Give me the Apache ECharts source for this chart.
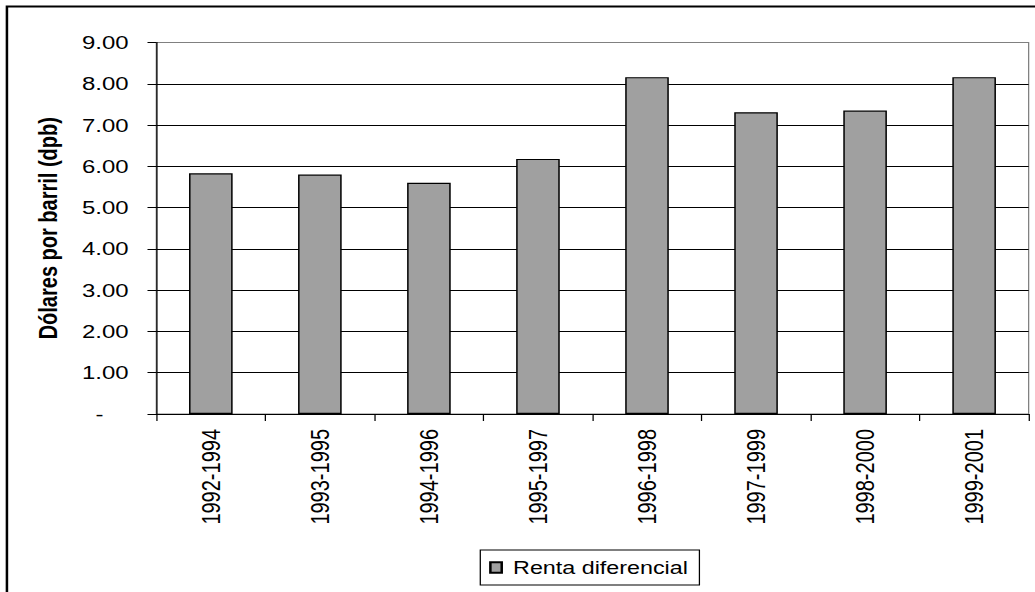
<!DOCTYPE html>
<html>
<head>
<meta charset="utf-8">
<script src="https://cdn.jsdelivr.net/npm/echarts@6/dist/echarts.min.js"></script>
<style>
  html, body { margin: 0; padding: 0; background: #fff; overflow: hidden; }
  /* Chart is laid out narrower and widened horizontally to give the wide-glyph look */
  #chart { width: 821px; height: 592px; transform: scaleX(1.2606); transform-origin: 0 0; }
</style>
</head>
<body>
<div id="chart"></div>
<script>
const periods = ['1992-1994', '1993-1995', '1994-1996', '1995-1997', '1996-1998', '1997-1999', '1998-2000', '1999-2001'];
const rentaDiferencial = [5.83, 5.80, 5.60, 6.18, 8.16, 7.31, 7.35, 8.16];
const seriesName = 'Renta diferencial';
const yTitle = 'Dólares por barril (dpb)';
const yMin = 0, yMax = 9, yStep = 1;

const FONT = "'Liberation Sans', Arial, sans-serif";
const chart = echarts.init(document.getElementById('chart'), null, { renderer: 'svg' });

// split lines: black inside, grey at the top edge of the plot area
const splitColors = [];
for (let v = yMin; v <= yMax; v += yStep) splitColors.push(v === yMax ? '#808080' : '#000000');

chart.setOption({
  animation: false,
  backgroundColor: '#ffffff',
  textStyle: { fontFamily: FONT, color: '#000' },
  graphic: [{
    type: 'rect',
    shape: { x: 5.5, y: 6.5, width: 900, height: 700 },
    style: { fill: 'none', stroke: '#000', lineWidth: 2 },
    silent: true, z: 100
  }],
  grid: {
    left: 124, right: 5, top: 42.5, bottom: 178,
    show: true, borderColor: '#808080', borderWidth: 1, backgroundColor: 'transparent'
  },
  legend: {
    data: [seriesName],
    left: 381, top: 550,
    padding: [8, 9, 8, 7],
    borderColor: '#000', borderWidth: 1,
    icon: 'rect', itemWidth: 9, itemHeight: 10.5,
    textStyle: { fontFamily: FONT, fontSize: 18.5, color: '#000', padding: [0, 0, 0, 4] }
  },
  xAxis: {
    type: 'category',
    data: periods,
    boundaryGap: true,
    axisLine: { lineStyle: { color: '#000', width: 1 } },
    axisTick: { show: true, length: 7, interval: 0, alignWithLabel: false, lineStyle: { color: '#000' } },
    axisLabel: { rotate: 90, margin: 15, interval: 0, fontFamily: FONT, fontSize: 20, color: '#000' },
    splitLine: { show: false }
  },
  yAxis: {
    type: 'value',
    min: yMin, max: yMax, interval: yStep,
    name: yTitle,
    nameLocation: 'middle',
    nameRotate: 90,
    nameGap: 76,
    nameTextStyle: { fontFamily: FONT, fontSize: 20, fontWeight: 'bold', color: '#000' },
    axisLine: { show: true, lineStyle: { color: '#000', width: 1 } },
    axisTick: { show: true, length: 7, lineStyle: { color: '#000' } },
    axisLabel: {
      margin: 22, fontFamily: FONT, fontSize: 19, color: '#000',
      formatter: v => v === 0 ? '{d|-}' : v.toFixed(2),
      rich: { d: { fontFamily: FONT, fontSize: 19, color: '#000', padding: [0, 20, 0, 0] } }
    },
    splitLine: { show: true, lineStyle: { color: splitColors, width: 1 } }
  },
  series: [{
    name: seriesName,
    type: 'bar',
    data: rentaDiferencial,
    barWidth: '40%',
    itemStyle: { color: '#a0a0a0', borderColor: '#000', borderWidth: 1.2 }
  }]
});
</script>
</body>
</html>
